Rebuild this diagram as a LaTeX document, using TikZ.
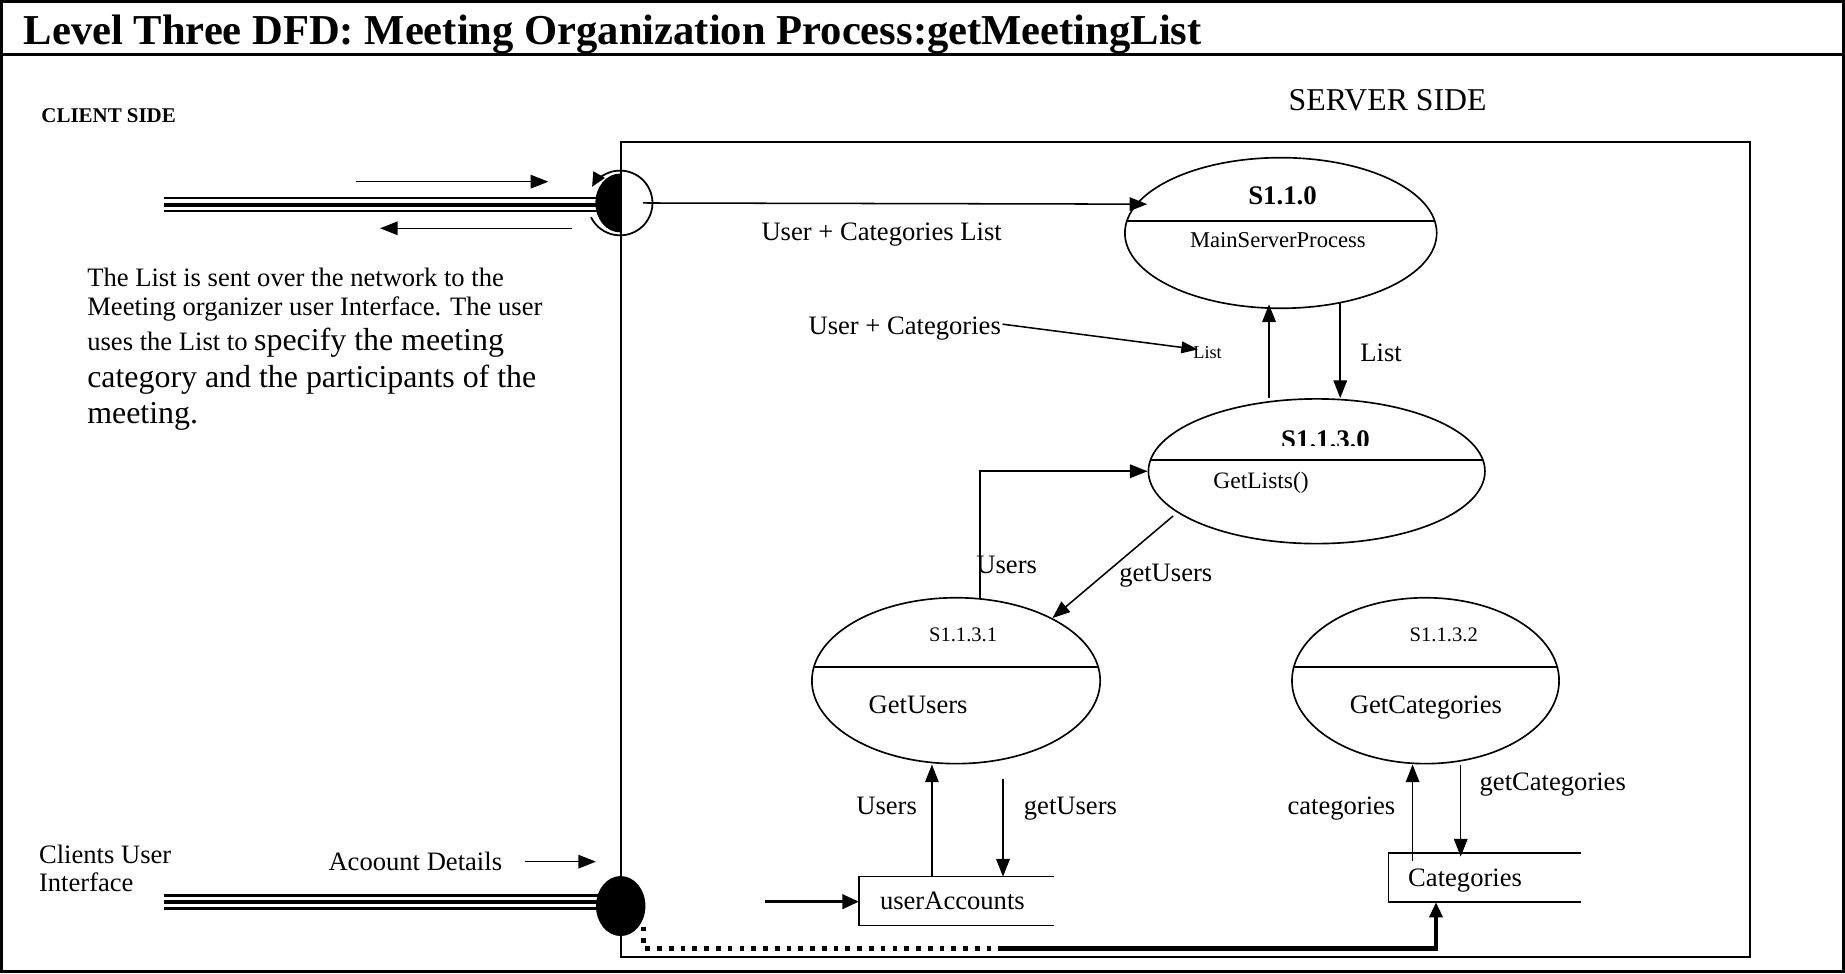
\documentclass[tikz,border=0pt]{standalone}
\usepackage{fontspec}
\setmainfont{Liberation Serif}
\usetikzlibrary{shapes.geometric,arrows.meta}
\newcommand{\myfs}[1]{\fontsize{#1}{#1}\selectfont}
\begin{document}
\begin{tikzpicture}[x=1pt,y=-1pt,
  flow/.style={line width=1.3pt,-{Triangle[length=15pt,width=11.5pt]}},
  proc/.style={draw,ellipse,line width=1.4pt,inner sep=0pt},
  txt/.style={inner sep=0pt,anchor=base west},
  small/.style={font=\myfs{22.6}},
  big/.style={font=\myfs{27.1}},
  divider/.style={line width=1.4pt},
  storeline/.style={line width=1.3pt},
  wire/.style={line width=2pt},
  wirethick/.style={line width=3pt},
  dotline/.style={line width=4pt,dash pattern=on 4pt off 6pt},
  thickflow/.style={line width=4pt,-{Triangle[length=13pt,width=11pt]}},
  boundary/.style={line width=1.5pt},
]
\useasboundingbox (0,0) rectangle (1568,827);
\fill[white] (0,0) rectangle (1568,827);
% frame and title
\draw[line width=2.4pt] (1.5,1.5) rectangle (1566.5,825.5);
\draw[line width=2.4pt] (1.5,46) -- (1566.5,46);
\node[txt,font=\bfseries\myfs{36.2}] (title) at (20,37.5) {Level Three DFD: Meeting Organization Process:getMeetingList};
\node[txt,font=\bfseries\myfs{17.8}] (client) at (35,104) {CLIENT SIDE};
\node[txt,font=\myfs{27}] (server) at (1095,94) {SERVER SIDE};
% server boundary
\draw[boundary] (527.5,121) rectangle (1487,813);
% processes
\node[proc,minimum width=265pt,minimum height=128pt] (p110) at (1088.5,198) {};
\draw[divider] (957.6,188) -- (1219.4,188);
\node[font=\bfseries\myfs{22.8},anchor=base,inner sep=0pt] (p110id) at (1090,174) {S1.1.0};
\node[font=\myfs{19.2},anchor=base,inner sep=0pt] (p110nm) at (1086,210) {MainServerProcess};

\node[proc,minimum width=286pt,minimum height=123pt] (p1130) at (1119,400.5) {};
\draw[divider] (977.7,391) -- (1260.3,391);
\begin{scope}
  \clip (1080,355) rectangle (1170,379);
  \node[font=\bfseries\myfs{22.8},anchor=base,inner sep=0pt] (p1130id) at (1126.5,381) {S1.1.3.0};
\end{scope}
\node[txt,font=\myfs{20}] (p1130nm) at (1031,415) {GetLists()};

\node[proc,minimum width=245pt,minimum height=141pt] (p1131) at (812.5,578.5) {};
\draw[divider] (691.6,567) -- (933.4,567);
\node[font=\myfs{17.5},anchor=base,inner sep=0pt] (p1131id) at (818.5,545.5) {S1.1.3.1};
\node[txt,small] (p1131nm) at (738,606) {GetUsers};

\node[proc,minimum width=227pt,minimum height=141pt] (p1132) at (1211.5,578.5) {};
\draw[divider] (1099.5,567) -- (1323.5,567);
\node[font=\myfs{17.5},anchor=base,inner sep=0pt] (p1132id) at (1227,545.5) {S1.1.3.2};
\node[txt,small] (p1132nm) at (1147,606) {GetCategories};

% data stores
\node[minimum width=165pt,minimum height=41pt,anchor=north west,inner sep=0pt] (ua) at (730,745) {};
\draw[storeline] (ua.north east) -- (ua.north west) -- (ua.south west) -- (ua.south east);
\node[txt,small] (uatxt) at (747.7,773.3) {userAccounts};

\node[minimum width=163.6pt,minimum height=41.3pt,anchor=north west,inner sep=0pt] (cat) at (1180,725) {};
\draw[storeline] (cat.north east) -- (cat.north west) -- (cat.south west) -- (cat.south east);
\node[txt,small] (cattxt) at (1196.6,753.5) {Categories};

% top network connector
\node[circle,minimum size=55pt,inner sep=0pt] (hubT) at (527,172.5) {};
\draw[wire] (139.6,168.5) -- (510,168.5);
\draw[wirethick] (139.6,174) -- (510,174);
\draw[wire] (139.6,179.5) -- (510,179.5);
\begin{scope}
  \clip (490,140) rectangle (527.5,205);
  \fill (hubT.center) ellipse [x radius=21pt,y radius=25pt];
\end{scope}
\draw[line width=1.5pt,-{Triangle[length=12pt,width=11pt]}] (hubT.center) ++(206:27.5pt) arc[start angle=206,end angle=510,radius=27.5pt];
\coordinate (aR0) at (302.6,154.4);
\coordinate (aR1) at (466,154.4);
\draw[flow] (aR0) -- (aR1);
\coordinate (aL0) at (486,194);
\coordinate (aL1) at (323,194);
\draw[flow] (aL0) -- (aL1);
\coordinate (s110in) at (975,173.5);
\draw[flow] ([xshift=19.5pt]hubT.center) -- (s110in);
\node[txt,small] (lUCL) at (647,204) {User + Categories List};

% User + Categories -> List
\node[txt,small] (lUC) at (687,284.7) {User + Categories};
\node[txt,font=\myfs{15.5}] (lList) at (1014,304.5) {List};
\coordinate (ucA) at (852,275.5);
\coordinate (ucB) at (1018,297);
\draw[line width=1.3pt,-{Triangle[length=14pt,width=10pt]}] (ucA) -- (ucB);

% between S1.1.0 and S1.1.3.0
\draw[flow] ([xshift=-40.5pt]p1130.north) -- ([xshift=-10pt,yshift=4pt]p110.south);
\draw[flow] ([xshift=50.5pt,yshift=5pt]p110.south) -- ([xshift=20pt]p1130.north);
\node[txt,small] (lList2) at (1156,307.4) {List};

% Users up to S1.1.3.0
\draw[flow] ([xshift=20.5pt,yshift=-1pt]p1131.north) |- (p1130.west);
\node[txt,small] (lUsers1) at (829.6,487.5) {Users};
% getUsers diagonal
\coordinate (gu1) at (997,438.5);
\draw[flow] (gu1) -- (p1131.33);
\node[txt,small] (lgetUsers1) at (951,494.5) {getUsers};

% between S1.1.3.1 and userAccounts
\draw[flow] ([xshift=62pt]ua.north west) -- ([xshift=62pt]ua.north west |- p1131.south);
\coordinate (gu0) at (852.4,662);
\draw[flow] (gu0) -- (gu0 |- ua.north);
\node[txt,small] (lUsers2) at (727.6,692.6) {Users};
\node[txt,small] (lgetUsers2) at (870,692.6) {getUsers};

% between S1.1.3.2 and Categories
\draw[flow] ([xshift=20.5pt,yshift=-7pt]cat.north west) -- ([xshift=20.5pt]cat.north west |- p1132.south);
\coordinate (gc0) at (1241.4,650);
\draw[flow] (gc0) -- ([yshift=-3pt]gc0 |- cat.north);
\node[txt,small] (lcats) at (1094,692.6) {categories};
\node[txt,small] (lgetCats) at (1257.3,671.4) {getCategories};

% bottom network connector
\node[txt,small] (lCUI1) at (33,733.6) {Clients User};
\node[txt,small] (lCUI2) at (33,757.8) {Interface};
\node[txt,small] (lAcc) at (279,739.4) {Acoount Details};
\coordinate (acc0) at (446,732.3);
\coordinate (acc1) at (506.5,732.3);
\draw[flow] (acc0) -- (acc1);
\draw[wire] (139.6,761) -- (512,761);
\draw[wirethick] (139.6,766.5) -- (512,766.5);
\draw[wire] (139.6,772) -- (512,772);
\node[fill,ellipse,minimum width=42pt,minimum height=51pt,inner sep=0pt] (hubB) at (527.5,770) {};
\coordinate (ua0) at (650,766.3);
\draw[line width=2.8pt,-{Triangle[length=14pt,width=12pt]}] (ua0) -- (ua.west |- ua0);
\coordinate (dt0) at (547,787.5);
\coordinate (dt1) at (547,806);
\coordinate (dt2) at (852.4,806);
\draw[dotline] (dt0) -- (dt1) -- (dt2);
\coordinate (dt3) at (1220.4,806);
\draw[thickflow] (dt2) -- (dt3) -- (dt3 |- cat.south);

% paragraph
\node[txt,small] (par1) at (74,243.6) {The List is sent over the network to the};
\node[txt,small] (par2) at (74,268) {Meeting organizer user Interface. The user};
\node[txt] (par3) at (74,298) {{\myfs{22.6}uses the List to }{\myfs{27.1}specify the meeting}};
\node[txt,big] (par4) at (74,329) {category and the participants of the};
\node[txt,big] (par5) at (74,360) {meeting.};
\end{tikzpicture}
\end{document}
